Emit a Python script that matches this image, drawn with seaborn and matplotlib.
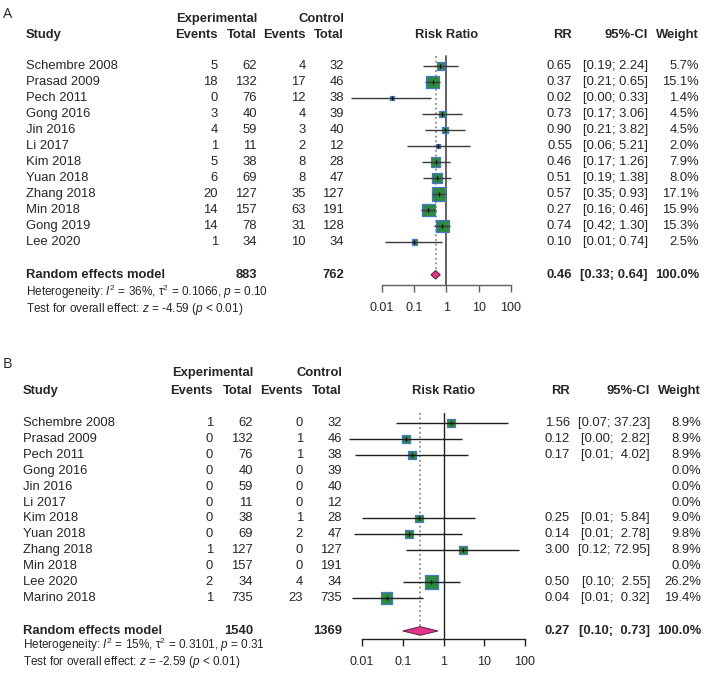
import numpy as np
import pandas as pd
import matplotlib
matplotlib.use("Agg")
import matplotlib.pyplot as plt
import seaborn as sns
from matplotlib.transforms import blended_transform_factory

# ---------------- Panel A data ----------------
studies_a = ["Schembre 2008", "Prasad 2009", "Pech 2011", "Gong 2016", "Jin 2016", "Li 2017",
             "Kim 2018", "Yuan 2018", "Zhang 2018", "Min 2018", "Gong 2019", "Lee 2020"]
exp_events_a = [5, 18, 0, 3, 4, 1, 5, 6, 20, 14, 14, 1]
exp_total_a = [62, 132, 76, 40, 59, 11, 38, 69, 127, 157, 78, 34]
ctrl_events_a = [4, 17, 12, 4, 3, 2, 8, 8, 35, 63, 31, 10]
ctrl_total_a = [32, 46, 38, 39, 40, 12, 28, 47, 127, 191, 128, 34]
rr_a = [0.65, 0.37, 0.02, 0.73, 0.90, 0.55, 0.46, 0.51, 0.57, 0.27, 0.74, 0.10]
lo_a = [0.19, 0.21, 0.0011, 0.17, 0.21, 0.06, 0.17, 0.19, 0.35, 0.16, 0.42, 0.0123]
hi_a = [2.24, 0.65, 0.33, 3.06, 3.82, 5.21, 1.26, 1.38, 0.93, 0.46, 1.30, 0.74]
weight_a = [5.7, 15.1, 1.4, 4.5, 4.5, 2.0, 7.9, 8.0, 17.1, 15.9, 15.3, 2.5]
summary_a = dict(exp_total=883, ctrl_total=762, rr=0.46, lo=0.33, hi=0.64)
het_a = r"Heterogeneity: $I^2$ = 36%, τ$^2$ = 0.1066, $p$ = 0.10"
test_a = r"Test for overall effect: $z$ = -4.59 ($p$ < 0.01)"

# ---------------- Panel B data ----------------
studies_b = ["Schembre 2008", "Prasad 2009", "Pech 2011", "Gong 2016", "Jin 2016", "Li 2017",
             "Kim 2018", "Yuan 2018", "Zhang 2018", "Min 2018", "Lee 2020", "Marino 2018"]
exp_events_b = [1, 0, 0, 0, 0, 0, 0, 0, 1, 0, 2, 1]
exp_total_b = [62, 132, 76, 40, 59, 11, 38, 69, 127, 157, 34, 735]
ctrl_events_b = [0, 1, 1, 0, 0, 0, 1, 2, 0, 0, 4, 23]
ctrl_total_b = [32, 46, 38, 39, 40, 12, 28, 47, 127, 191, 34, 735]
nan = np.nan
rr_b = [1.56, 0.12, 0.17, nan, nan, nan, 0.25, 0.14, 3.00, nan, 0.50, 0.04]
lo_b = [0.07, 0.0048, 0.0067, nan, nan, nan, 0.0100, 0.0065, 0.12, nan, 0.10, 0.0058]
hi_b = [37.23, 2.82, 4.02, nan, nan, nan, 5.84, 2.78, 72.95, nan, 2.55, 0.32]
weight_b = [8.9, 8.9, 8.9, 0.0, 0.0, 0.0, 9.0, 9.8, 8.9, 0.0, 26.2, 19.4]
summary_b = dict(exp_total=1540, ctrl_total=1369, rr=0.27, lo=0.10, hi=0.73)
het_b = r"Heterogeneity: $I^2$ = 15%, τ$^2$ = 0.3101, $p$ = 0.31"
test_b = r"Test for overall effect: $z$ = -2.59 ($p$ < 0.01)"

tick_vals = [0.01, 0.1, 1, 10, 100]
tick_labels = ["0.01", "0.1", "1", "10", "100"]

# ---------------- style ----------------
sns.set_theme(style="white")
plt.rcParams["font.family"] = ["Liberation Sans", "DejaVu Sans"]
plt.rcParams["mathtext.fontset"] = "custom"
plt.rcParams["mathtext.rm"] = "Liberation Sans"
plt.rcParams["mathtext.it"] = "Liberation Sans:italic"
plt.rcParams["mathtext.bf"] = "Liberation Sans:bold"

W, H = 710, 682
fig = plt.figure(figsize=(W / 100, H / 100), dpi=100)

FS = 9.4
FS_SMALL = 8.5
SQ_FILL = "#2B8A3B"
SQ_EDGE = "#4A78CC"
DIA_FILL = "#E5338B"


def draw_panel(label, studies, ev_e, tot_e, ev_c, tot_c, rr, lo, hi, wt, summ, het, test, L):
    row0, rh = L["row0"], L["rh"]
    axis_row = (L["axis_px"] - row0) / rh
    top_px = row0 - rh
    ax = fig.add_axes([L["x0"] / W, 1 - L["axis_px"] / H,
                       (L["x1"] - L["x0"]) / W, (L["axis_px"] - top_px) / H])
    ax.set_xscale("log")
    ax.set_xlim(0.01, 100)
    ax.set_ylim(axis_row, -1)
    ax.patch.set_alpha(0)
    tr = blended_transform_factory(fig.transFigure, ax.transData)
    cx = L["cols"]

    def txt(xpx, row, s, ha="right", bold=False, size=FS, va="center", **kw):
        ax.text(xpx / W, row, s, transform=tr, ha=ha, va=va, fontsize=size,
                fontweight="bold" if bold else "normal", clip_on=False, **kw)

    df = pd.DataFrame(dict(study=studies, ev_e=ev_e, tot_e=tot_e, ev_c=ev_c, tot_c=tot_c,
                           rr=rr, lo=lo, hi=hi, w=wt))
    df["row"] = np.arange(len(df))
    plotted = df[df["w"] > 0].copy()

    # reference lines
    ax.plot([1, 1], [-0.6, axis_row], color=L["ref_col"], lw=L["ref_lw"], zorder=1, clip_on=False)
    ax.plot([summ["rr"], summ["rr"]], [-0.6, L["sum_row"] - 0.28], color="#8A8A8A", lw=1.3,
            ls=(0, (1, 1.6)), zorder=1, clip_on=False)

    # squares (area proportional to weight)
    c = (L["k"] * 0.72) ** 2
    sns.scatterplot(data=plotted, x="rr", y="row", size="w",
                    sizes=(c * plotted["w"].min(), c * plotted["w"].max()),
                    marker="s", color=SQ_FILL, edgecolor=SQ_EDGE, linewidth=0.9,
                    legend=False, ax=ax, zorder=2, clip_on=False)
    # confidence intervals
    for _, r in plotted.iterrows():
        ax.plot([r["lo"], r["hi"]], [r["row"], r["row"]], color=L["ci_col"], lw=1.0,
                zorder=3, clip_on=False, solid_capstyle="butt")
    ax.plot(plotted["rr"], plotted["row"], ls="none", marker="|", ms=3.5, mew=0.9,
            color="black", zorder=4, clip_on=False)

    # summary diamond
    sr = L["sum_row"]
    dh = L["dia_h"]
    ax.fill([summ["lo"], summ["rr"], summ["hi"], summ["rr"]], [sr, sr - dh, sr, sr + dh],
            facecolor=DIA_FILL, edgecolor="#5A2040", lw=0.7, zorder=3, clip_on=False)

    # axis styling
    for sp in ["top", "left", "right"]:
        ax.spines[sp].set_visible(False)
    ax.spines["bottom"].set_color(L["ref_col"])
    ax.spines["bottom"].set_linewidth(1.0)
    ax.set_yticks([])
    ax.set_xticks(tick_vals)
    ax.set_xticklabels(tick_labels)
    ax.xaxis.set_minor_locator(matplotlib.ticker.NullLocator())
    ax.tick_params(axis="x", bottom=True, length=5, width=1.0, color=L["ref_col"],
                   labelsize=9, pad=7)
    ax.set_xlabel("")
    ax.set_ylabel("")

    # panel label
    ax.text(L["lab_x"] / W, L["lab_row"], label, transform=tr, ha="left", va="center",
            fontsize=10.5, family=["Open Sans", "DejaVu Sans"], clip_on=False)

    # headers
    h1, h2 = L["h1"], L["h2"]
    txt(cx["study"], h2, "Study", ha="left", bold=True)
    txt(cx["tot_e"], h1, "Experimental", bold=True)
    txt(cx["tot_c"], h1, "Control", bold=True)
    txt(cx["ev_e"], h2, "Events", bold=True)
    txt(cx["tot_e"], h2, "Total", bold=True)
    txt(cx["ev_c"], h2, "Events", bold=True)
    txt(cx["tot_c"], h2, "Total", bold=True)
    txt((L["x0"] + L["x1"]) / 2, h2, "Risk Ratio", ha="center", bold=True)
    txt(cx["rr"], h2, "RR", bold=True)
    txt(cx["ci"], h2, "95%-CI", bold=True)
    txt(cx["wt"], h2, "Weight", bold=True)

    # CI string width
    his = [h for h in list(df["hi"]) + [summ["hi"]] if not np.isnan(h)]
    wdt = max(len(f"{h:.2f}") for h in his)

    for _, r in df.iterrows():
        row = r["row"]
        txt(cx["study"], row, r["study"], ha="left")
        txt(cx["ev_e"], row, f"{int(r['ev_e'])}")
        txt(cx["tot_e"], row, f"{int(r['tot_e'])}")
        txt(cx["ev_c"], row, f"{int(r['ev_c'])}")
        txt(cx["tot_c"], row, f"{int(r['tot_c'])}")
        if r["w"] > 0:
            txt(cx["rr"], row, f"{r['rr']:.2f}")
            txt(cx["ci"], row, f"[{r['lo']:.2f}; {r['hi']:>{wdt}.2f}]")
        txt(cx["wt"], row, f"{r['w']:.1f}%")

    # summary row
    txt(cx["study"], sr, "Random effects model", ha="left", bold=True)
    txt(cx["tot_e"], sr, f"{summ['exp_total']}", bold=True)
    txt(cx["tot_c"], sr, f"{summ['ctrl_total']}", bold=True)
    txt(cx["rr"], sr, f"{summ['rr']:.2f}", bold=True)
    txt(cx["ci"], sr, f"[{summ['lo']:.2f}; {summ['hi']:>{wdt}.2f}]", bold=True)
    txt(cx["wt"], sr, "100.0%", bold=True)
    # heterogeneity / test lines, placed by baseline
    txt(cx["study"], L["het_row"], het, ha="left", size=FS_SMALL, va="baseline")
    txt(cx["study"], L["test_row"], test, ha="left", size=FS_SMALL, va="baseline")


layout_a = dict(row0=66, rh=16, axis_px=285, x0=382, x1=511, k=3.25,
                sum_row=13.05, dia_h=0.27, h1=-2.95, h2=-1.95, het_row=14.38, test_row=15.35,
                lab_x=3, lab_row=-3.25, ref_col="#606060", ref_lw=1.4, ci_col="#3A3A3A",
                cols=dict(study=26, ev_e=218, tot_e=257, ev_c=306, tot_c=344,
                          rr=572, ci=648, wt=699))
layout_b = dict(row0=423, rh=15.9, axis_px=639, x0=362, x1=525, k=2.6,
                sum_row=13.08, dia_h=0.27, h1=-3.14, h2=-2.01, het_row=14.24, test_row=15.24,
                lab_x=3, lab_row=-3.7, ref_col="#202020", ref_lw=1.0, ci_col="#202020",
                cols=dict(study=23, ev_e=213, tot_e=253, ev_c=303, tot_c=342,
                          rr=570, ci=650, wt=701))

draw_panel("A", studies_a, exp_events_a, exp_total_a, ctrl_events_a, ctrl_total_a,
           rr_a, lo_a, hi_a, weight_a, summary_a, het_a, test_a, layout_a)
draw_panel("B", studies_b, exp_events_b, exp_total_b, ctrl_events_b, ctrl_total_b,
           rr_b, lo_b, hi_b, weight_b, summary_b, het_b, test_b, layout_b)

fig.savefig("out.png", dpi=100, facecolor="white")
